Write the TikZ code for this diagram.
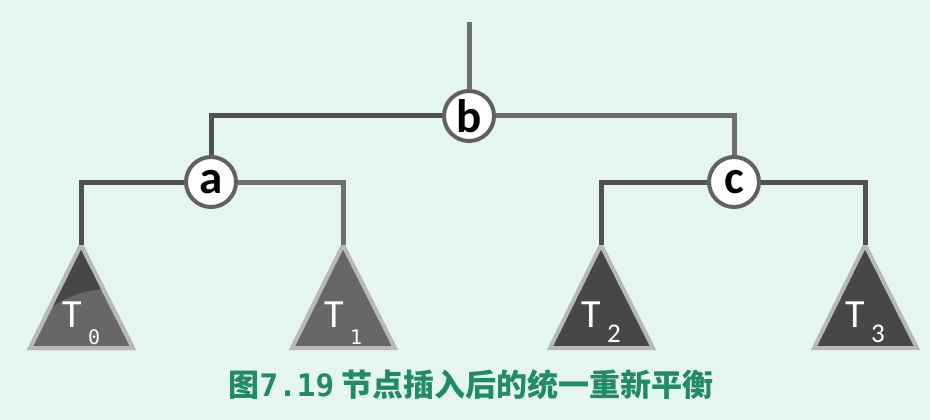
\documentclass[tikz,border=0pt]{standalone}
\usepackage{fontspec}
\setmainfont{Carlito}
\newfontfamily\cjkfont{Noto Sans CJK SC Black}
\newfontfamily\monofont{DejaVu Sans Mono}
\definecolor{bgc}{HTML}{E5F6EE}
\definecolor{linec}{HTML}{505050}
\definecolor{linel}{HTML}{6E6E6E}
\definecolor{trifill}{HTML}{474747}
\definecolor{trispeck}{HTML}{676767}
\definecolor{triedge}{HTML}{B8B8B8}
\definecolor{capc}{HTML}{238A66}
\begin{document}
\begin{tikzpicture}[x=1pt,y=-1pt,
  keynode/.style={circle,draw=linec!90,line width=4pt,fill=white,minimum size=50pt,inner sep=0pt,
    font=\fontsize{47}{47}\selectfont\bfseries},
  edge/.style={draw=linec,line width=5pt},
  edgel/.style={draw=linel,line width=5pt},
  tri/.style={draw=triedge,line width=4pt,line join=miter},
  tlabel/.style={text=white,inner sep=0pt,anchor=base west,font=\fontsize{40}{40}\selectfont},
  sublabel/.style={text=white,inner sep=0pt,anchor=base west}
]
\fill[bgc] (0,0) rectangle (930,420);
\useasboundingbox (0,0) rectangle (930,420);

% apex coordinates of subtrees
\coordinate (top) at (469,22);
\coordinate (t0) at (81,245);
\coordinate (t1) at (343,245);
\coordinate (t2) at (601,245);
\coordinate (t3) at (865,245);

% subtree triangles
\path[tri,fill=trispeck] (t0) -- ++(-51,103) -- ++(103,0) -- cycle;
\fill[trifill] (t0) -- (49,310) .. controls (62,298) and (82,291) .. (103,289) -- cycle;
\path[tri] (t0) -- ++(-51,103) -- ++(103,0) -- cycle;
\path[tri,fill=trispeck] (t1) -- ++(-51,103) -- ++(103,0) -- cycle;
\path[tri,fill=trifill] (t2) -- ++(-51,103) -- ++(103,0) -- cycle;
\path[tri,fill=trifill] (t3) -- ++(-51,103) -- ++(103,0) -- cycle;

\node[tlabel] (l0) at (62,327) {T};
\node[sublabel,font=\fontsize{20}{20}\selectfont\monofont] (s0) at (88,344) {0};
\node[tlabel] (l1) at (324,327) {T};
\node[sublabel,font=\fontsize{20}{20}\selectfont\monofont] (s1) at (350,344) {1};
\node[tlabel] (l2) at (581,327) {T};
\node[sublabel,font=\fontsize{27}{27}\selectfont] (s2) at (607,342) {2};
\node[tlabel] (l3) at (845,327) {T};
\node[sublabel,font=\fontsize{27}{27}\selectfont] (s3) at (871,342) {3};

% internal nodes
\node[keynode] (b) at (469,116) {b};
\node[keynode] (a) at (211,182) {a};
\node[keynode] (c) at (734,182) {c};

% connectors
\draw[edgel] (b) -- (top);
\draw[edge] (b) -| (a);
\draw[edgel] (b) -| (c);
\draw[edge] (a) -| (t0);
\draw[edgel] (a) -| (t1);
\draw[edge] (c) -| (t2);
\draw[edge] (c) -| (t3);

% caption
\node[text=capc,inner sep=0pt,font=\fontsize{31}{31}\selectfont\cjkfont] (cap) at (471,385)
  {图{\monofont\bfseries 7.19} 节点插入后的统一重新平衡};
\end{tikzpicture}
\end{document}
